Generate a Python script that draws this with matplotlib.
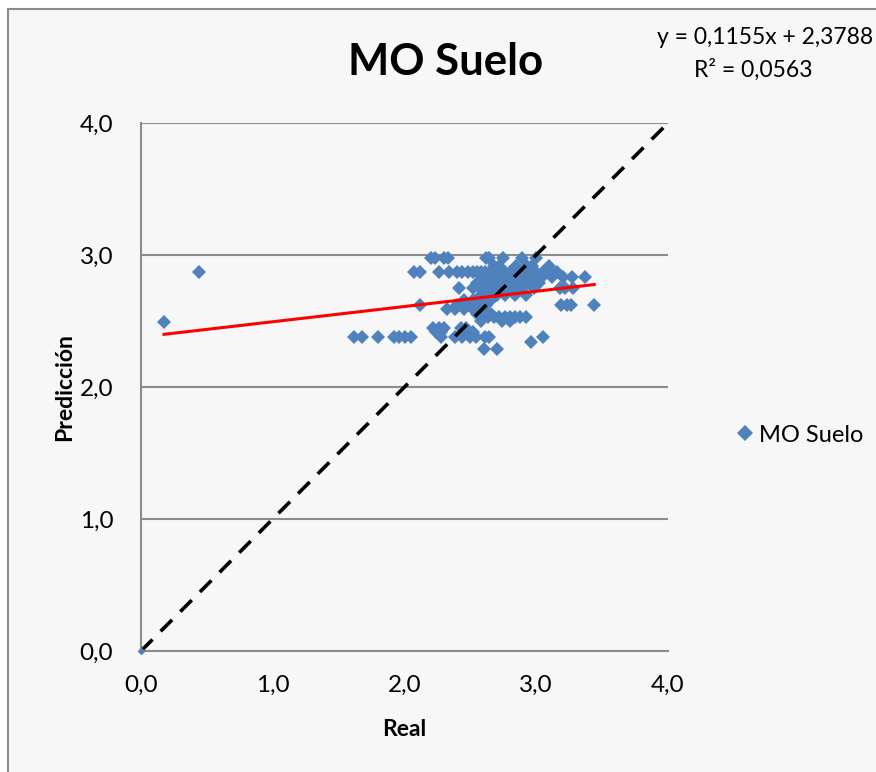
import matplotlib
matplotlib.use("Agg")
import matplotlib.pyplot as plt
from matplotlib.patches import Rectangle
from matplotlib.lines import Line2D

plt.rcParams['font.family'] = ['Lato', 'DejaVu Sans']

# Observed (Real) vs predicted (Predicción) soil organic matter, grouped by predicted level
rows = {
    2.98: [2.20, 2.23, 2.30, 2.33, 2.62, 2.64, 2.75, 2.89, 3.00],
    2.92: [2.68, 2.72, 2.85, 2.93, 2.97, 3.10],
    2.87: [2.07, 2.12, 2.26, 2.34, 2.40, 2.44, 2.48, 2.52, 2.55, 2.58, 2.61, 2.65,
           2.68, 2.72, 2.76, 2.80, 2.84, 2.88, 2.92, 2.96, 3.00, 3.05, 3.10, 3.16],
    2.83: [2.60, 2.66, 2.74, 2.82, 2.90, 2.98, 3.04, 3.12, 3.20, 3.27, 3.37],
    2.79: [2.55, 2.63, 2.70, 2.78, 2.86, 2.94, 3.02],
    2.75: [2.41, 2.52, 2.57, 2.62, 2.67, 2.72, 2.80, 2.88, 2.98, 3.18, 3.22, 3.28],
    2.70: [2.58, 2.64, 2.70, 2.76, 2.84, 2.92],
    2.66: [2.45, 2.52, 2.60, 2.66],
    2.62: [2.12, 2.40, 2.48, 2.55, 2.62, 3.19, 3.23, 3.26, 3.44],
    2.59: [2.32, 2.38, 2.45, 2.52, 2.58],
    2.55: [2.55, 2.62, 2.66],
    2.53: [2.58, 2.63, 2.68, 2.72, 2.76, 2.80, 2.84, 2.88, 2.92],
    2.50: [2.58, 2.74, 2.80],
    2.45: [2.22, 2.26, 2.30, 2.43, 2.47],
    2.42: [2.24, 2.28, 2.52],
    2.38: [1.62, 1.68, 1.80, 1.92, 1.96, 2.00, 2.05, 2.28, 2.38, 2.44, 2.50, 2.54,
           2.61, 2.64, 3.05],
    2.34: [2.96],
    2.29: [2.60, 2.70],
}
outlier_real = [0.175, 0.44]
outlier_pred = [2.49, 2.87]

real = list(outlier_real)
pred = list(outlier_pred)
for level, xs in rows.items():
    real.extend(xs)
    pred.extend([level] * len(xs))

slope, intercept = 0.1155, 2.3788
r2 = 0.0563
ticks = [0.0, 1.0, 2.0, 3.0, 4.0]
tick_labels = ["0,0", "1,0", "2,0", "3,0", "4,0"]

W, H = 876, 772
fig = plt.figure(figsize=(W / 100, H / 100), dpi=100, facecolor="white")

# chart area frame
fig.patches.append(Rectangle((8 / W, -0.01), 1.0, 1 - 9 / H + 0.01,
                             transform=fig.transFigure, facecolor="#f7f7f7",
                             edgecolor="#8c8c8c", linewidth=1.5, zorder=-10))

ax = fig.add_axes([141 / W, 1 - 651 / H, 527 / W, 528 / H])
ax.set_zorder(1)
ax.set_facecolor("#f7f7f7")
ax.set_xlim(0, 4)
ax.set_ylim(0, 4)

for g in ticks[1:]:
    ax.axhline(g, color="#8c8c8c", lw=1.5, zorder=1)

for side in ["top", "right"]:
    ax.spines[side].set_visible(False)
for side in ["left", "bottom"]:
    ax.spines[side].set_color("#8c8c8c")
    ax.spines[side].set_linewidth(1.5)

ax.set_xticks(ticks)
ax.set_xticklabels(tick_labels)
ax.set_yticks(ticks)
ax.set_yticklabels(tick_labels)
ax.tick_params(length=0, labelsize=17.5)
ax.tick_params(axis="y", pad=20)
ax.tick_params(axis="x", pad=17)

# 1:1 line
ax.plot([0, 4], [0, 4], color="black", lw=2.6, ls=(0, (4.5, 3.2)), zorder=3,
        clip_on=False)
ax.plot([0], [0], marker="D", ms=3, color="#4f81bd", ls="none", clip_on=False,
        zorder=4)

# observations
ax.plot(real, pred, ls="none", marker="D", ms=7.5, color="#4f81bd",
        markeredgewidth=0, zorder=2)

# linear trend
xmin, xmax = min(real), max(real)
ax.plot([xmin, xmax], [slope * xmin + intercept, slope * xmax + intercept],
        color="red", lw=2.2, zorder=3)

ax.set_xlabel("Real", fontsize=16.5, fontweight="bold", labelpad=17)
ax.set_ylabel("Predicción", fontsize=16.5, fontweight="bold", labelpad=3)

fig.text(446 / W, 1 - 62 / H, "MO Suelo", fontsize=31.5, fontweight="bold",
         ha="center", va="center")
fig.text(765 / W, 1 - 37 / H, "y = 0,1155x + 2,3788", fontsize=16.5,
         ha="center", va="center")
fig.text(753 / W, 1 - 70 / H, "R² = 0,0563", fontsize=16.5,
         ha="center", va="center")

legend_handle = Line2D([], [], ls="none", marker="D", ms=8, color="#4f81bd",
                       markeredgewidth=0)
fig.legend([legend_handle], ["MO Suelo"], loc="center left",
           bbox_to_anchor=(728 / W, 1 - 435 / H), frameon=False, fontsize=17,
           handlelength=0.6, handletextpad=0.3, borderaxespad=0)

fig.savefig("out.png", dpi=100, facecolor="white")
